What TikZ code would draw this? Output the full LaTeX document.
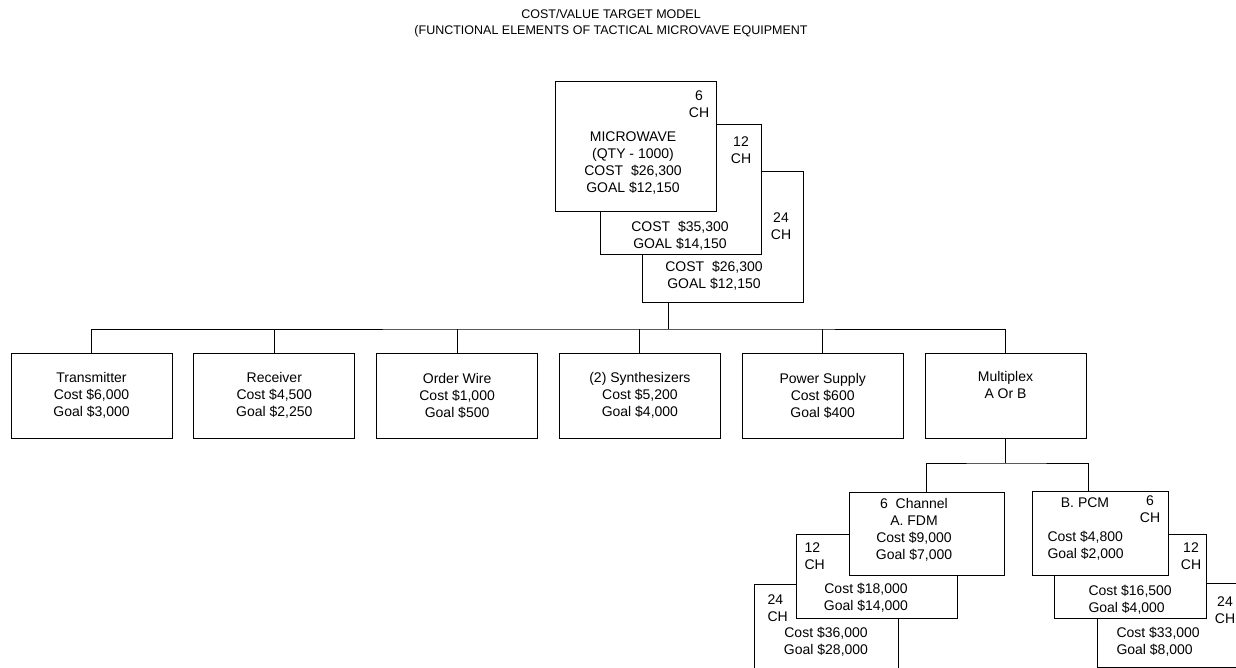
\documentclass[tikz,border=0pt]{standalone}
\usepackage{fontspec}
\setmainfont{Liberation Sans}

\begin{document}
\begin{tikzpicture}[x=1pt,y=-1pt,line width=1pt,font=\fontsize{14}{17}\selectfont,
  box/.style={draw=black,fill=white,inner sep=0pt,align=center,minimum width=161,minimum height=84},
  txt/.style={inner sep=0pt,align=center},
  ltxt/.style={inner sep=0pt,align=left,anchor=west}]
\useasboundingbox (0,0) rectangle (1236,668);
\clip (0,0) rectangle (1236,668);
\node[txt,font=\fontsize{12.5}{16}\selectfont] (title) at (611,23) {COST/VALUE TARGET MODEL\\(FUNCTIONAL ELEMENTS OF TACTICAL MICROVAVE EQUIPMENT};
% microwave set, 24, 12 and 6 channel
\node[box,minimum height=130] (mw24) at (722.5,237) {};
\node[box,minimum height=130] (mw12) at (680.5,189.5) {};
\node[box,minimum height=130] (mw6) at (635.5,147) {};
\node[txt] (mw6ch) at (699,104) {6\\CH};
\node[txt] (mw6txt) at (633,163) {MICROWAVE\\(QTY - 1000)\\COST\ \ \$26,300\\GOAL \$12,150};
\node[txt] (mw12ch) at (741,150) {12\\CH};
\node[txt] (mw12txt) at (680,236) {COST\ \ \$35,300\\GOAL \$14,150};
\node[txt] (mw24ch) at (781,226) {24\\CH};
\node[txt] (mw24txt) at (714,276) {COST\ \ \$26,300\\GOAL \$12,150};
% functional elements
\node[box,minimum height=85] (tx) at (91.5,395.5) {Transmitter\\Cost \$6,000\\Goal \$3,000};
\node[box,minimum height=85] (rx) at (274.3,395.5) {Receiver\\Cost \$4,500\\Goal \$2,250};
\node[box,minimum height=85] (ow) at (457.1,395.5) {Order Wire\\Cost \$1,000\\Goal \$500};
\node[box,minimum height=85] (sy) at (639.9,395.5) {(2) Synthesizers\\Cost \$5,200\\Goal \$4,000};
\node[box,minimum height=85] (ps) at (822.7,395.5) {Power Supply\\Cost \$600\\Goal \$400};
\node[box,minimum height=85] (mx) at (1005.5,395.5) {Multiplex\\A Or B\\\strut};
\coordinate (bus) at (668,329);
\draw (mw24.south -| bus) -- (bus);
\draw (tx.north) |- (bus) -| (mx.north);
\draw (rx.north) -- (rx.north |- bus);
\draw (ow.north) -- (ow.north |- bus);
\draw (sy.north) -- (sy.north |- bus);
\draw (ps.north) -- (ps.north |- bus);
% multiplex A: FDM
\node[box,minimum width=144,minimum height=88] (fdm24) at (826,628) {};
\node[box,minimum width=161] (fdm12) at (876.5,576) {};
\node[box,minimum width=155,minimum height=83] (fdm6) at (926.5,533.5) {};
\node[txt] (fdm6txt) at (914,529.5) {6\ \ Channel\\A. FDM\\Cost \$9,000\\Goal \$7,000};
\node[ltxt] (fdm12ch) at (804,556) {12\\CH};
\node[txt] (fdm12txt) at (866,597.5) {Cost \$18,000\\Goal \$14,000};
\node[ltxt] (fdm24ch) at (767,608) {24\\CH};
\node[txt] (fdm24txt) at (826,642) {Cost \$36,000\\Goal \$28,000};
% multiplex B: PCM
\node[box,minimum width=161] (pcm24) at (1177.5,625) {};
\node[box,minimum width=152] (pcm12) at (1130,576) {};
\node[box,minimum width=136] (pcm6) at (1100,533) {};
\node[txt] (pcm6name) at (1085,503) {B. PCM};
\node[txt] (pcm6ch) at (1150,509) {6\\CH};
\node[ltxt] (pcm6txt) at (1047,546) {Cost \$4,800\\Goal \$2,000};
\node[txt] (pcm12ch) at (1191,556.5) {12\\CH};
\node[ltxt] (pcm12txt) at (1088,599.5) {Cost \$16,500\\Goal \$4,000};
\node[txt] (pcm24ch) at (1225,610) {24\\CH};
\node[ltxt] (pcm24txt) at (1116,641.5) {Cost \$33,000\\Goal \$8,000};
\coordinate (mxbus) at (1005.5,463);
\draw (mx.south) -- (mxbus);
\draw (fdm6.north) |- (mxbus) -| ([xshift=-12pt]pcm6.north);
\end{tikzpicture}
\end{document}
